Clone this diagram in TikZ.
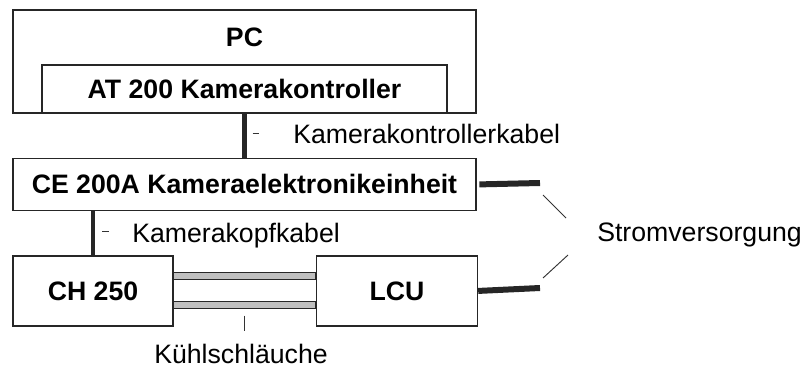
\documentclass[tikz,border=0pt]{standalone}
\usepackage{fontspec}
\setmainfont{Liberation Sans}
\usepackage{tikz}
\usetikzlibrary{positioning, calc}

\begin{document}
\begin{tikzpicture}[
            x=0.75pt, y=-0.75pt,
            box/.style={rectangle, draw=black!85, line width=1.1pt, fill=white, inner sep=0pt, font=\fontsize{20}{24}\selectfont\bfseries},
            boxtitle/.style={inner sep=0pt, font=\fontsize{20}{24}\selectfont\bfseries},
            lbl/.style={inner sep=0pt, font=\fontsize{20}{24}\selectfont},
            cable/.style={line width=3.4pt, color=black!85},
            power/.style={line width=4.5pt, color=black!85},
            hose/.style={draw=black!85, fill=gray!50, line width=0.8pt},
            leader/.style={line width=0.7pt, color=black!80}
        ]
        \useasboundingbox (0,0) rectangle (803,367);
        \node [box, minimum width=347.25pt, minimum height=77.25pt] (pc) at (244.5,61.5) {};
        \node [boxtitle, below=13.5pt of pc.north] (pctitle) {PC};
        \node [box, minimum width=303.75pt, minimum height=36pt, above=0pt of pc.south] (at) {AT 200 Kamerakontroller};
        \node [box, minimum width=347.25pt, minimum height=39pt, below=33pt of pc] (ce) {CE 200A Kameraelektronikeinheit};
        \node [box, minimum width=120pt, minimum height=52.5pt, below=33pt of ce.south west, anchor=north west] (ch) {CH 250};
        \node [box, minimum width=120.75pt, minimum height=52.5pt, right=106.5pt of ch] (lcu) {LCU};
        \coordinate (kk) at (ce.south -| ch.north);
        \coordinate (pwtop) at (540,183);
        \coordinate (pwbot) at (540,288);
        \node [lbl, anchor=base west] (kkabel) at (293,144) {Kamerakontrollerkabel};
        \node [lbl, anchor=base west] (kopf) at (132,242) {Kamerakopfkabel};
        \node [lbl, anchor=base] (kuehl) at (241,363) {Kühlschläuche};
        \node [lbl, anchor=base west] (strom) at (597,241) {Stromversorgung};
        \draw [cable] (at.south) -- (ce.north);
        \draw [cable] (kk) -- (ch.north);
        \draw [power, shorten <=2pt] (ce.east) -- (pwtop);
        \draw [power] (lcu.east) -- (pwbot);
        \draw [hose] ($(ch.east)+(0,-18.5)$) rectangle ($(lcu.west)+(0,-11.5)$);
        \draw [hose] ($(ch.east)+(0,10.5)$) rectangle ($(lcu.west)+(0,17.5)$);
        \draw [leader] ($(at.south)!0.45!(ce.north)+(8,0)$) -- ++(6,0);
        \draw [leader] ($(kk)!0.45!(ch.north)+(9,0)$) -- ++(7,0);
        \draw [leader] ($(ch.south east)!0.5!(lcu.south west)+(0,-11)$) -- ++(0,15);
        \draw [leader] ($(pwtop)+(3,12)$) -- ($(pwtop)+(26,35)$);
        \draw [leader] ($(pwbot)+(28,-33)$) -- ($(pwbot)+(3,-10)$);
    \end{tikzpicture}
\end{document}
